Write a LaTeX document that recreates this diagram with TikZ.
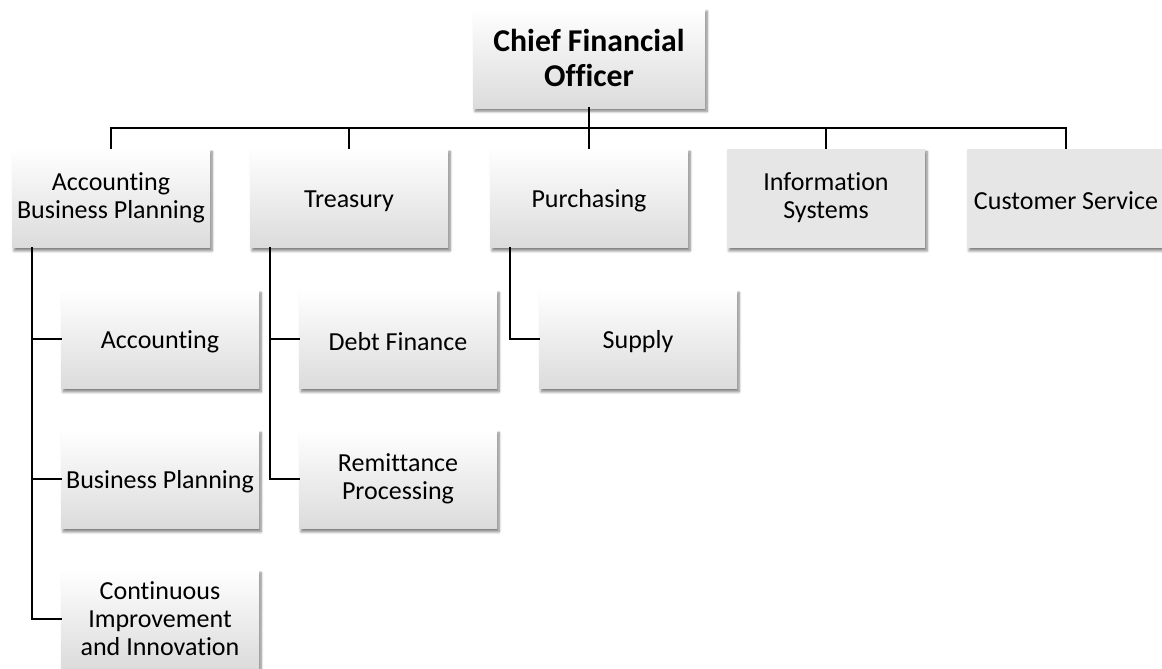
\documentclass[tikz,border=0pt]{standalone}
\usepackage{fontspec}
\setmainfont[Ligatures=NoCommon]{Carlito}
\usepackage{tikz}
\usetikzlibrary{shadows.blur}
\definecolor{boxgray}{RGB}{230,230,230}

\tikzset{
  boxbase/.style={draw=none, align=center, inner sep=0pt,
    minimum width=148.5pt, minimum height=74.25pt,
    font=\fontsize{19.5pt}{21pt}\selectfont,
    execute at begin node={\rule{0pt}{17pt}},
    blur shadow={shadow xshift=1.5pt, shadow yshift=-2.5pt, shadow blur steps=6, shadow opacity=50}},
  unit/.style={boxbase, top color=white, middle color=white, bottom color=black!14},
  plainunit/.style={boxbase, fill=boxgray},
  chief/.style={unit, minimum width=174pt, minimum height=75pt,
    font=\fontsize{23.8pt}{26pt}\selectfont\bfseries},
  link/.style={line width=1.7pt, line cap=rect}
}

\begin{document}
\begin{tikzpicture}[x=0.75pt,y=-0.75pt]
\useasboundingbox (0,0) rectangle (1162,668);

% top level
\node[chief] (cfo) at (589,58) {Chief Financial\\Officer};

% first level
\node[unit] (abp) at (111,198) {Accounting\\Business Planning};
\node[unit] (treas) at (349,198) {Treasury};
\node[unit] (purch) at (589,198) {Purchasing};
\node[plainunit] (infosys) at (826,198) {Information\\Systems};
\node[plainunit] (custserv) at (1066,198) {Customer Service};

% second level
\node[unit] (acct) at (160,339) {Accounting};
\node[unit] (bizplan) at (160,479) {Business Planning};
\node[unit] (improve) at (160,619) {Continuous\\Improvement\\and Innovation};
\node[unit] (debt) at (398,339) {Debt Finance};
\node[unit] (remit) at (398,479) {Remittance\\Processing};
\node[unit] (supply) at (638,339) {Supply};

% connectors
\draw[link] (cfo.south) -- ++(0,20) -| (abp.north);
\draw[link] (cfo.south) -- ++(0,20) -| (treas.north);
\draw[link] (cfo.south) -- ++(0,20) -| (purch.north);
\draw[link] (cfo.south) -- ++(0,20) -| (infosys.north);
\draw[link] (cfo.south) -- ++(0,20) -| (custserv.north);

\draw[link] ([xshift=15pt]abp.south west) |- (acct.west);
\draw[link] ([xshift=15pt]abp.south west) |- (bizplan.west);
\draw[link] ([xshift=15pt]abp.south west) |- (improve.west);
\draw[link] ([xshift=15pt]treas.south west) |- (debt.west);
\draw[link] ([xshift=15pt]treas.south west) |- (remit.west);
\draw[link] ([xshift=15pt]purch.south west) |- (supply.west);
\end{tikzpicture}
\end{document}
